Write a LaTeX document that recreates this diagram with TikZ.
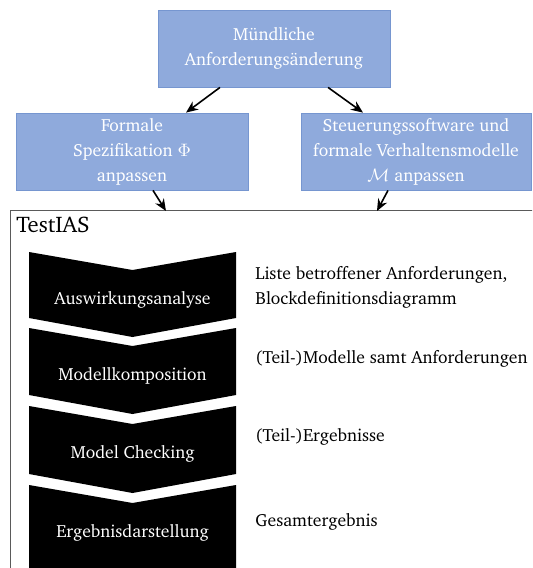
\documentclass[tikz,border=0pt]{standalone}
\usepackage[T1]{fontenc}
\usepackage{charter}
\usepackage{amsmath}
\usetikzlibrary{positioning, calc, arrows.meta}

\definecolor{reqblue}{RGB}{143,170,220}
\definecolor{reqline}{RGB}{118,150,208}
\definecolor{frameline}{RGB}{90,90,90}

\tikzset{
  reqbox/.style={draw=reqline, fill=reqblue, text=white, align=center,
    minimum width=116pt, minimum height=38.5pt, inner sep=0pt,
    font=\fontsize{8.8}{12.5}\selectfont},
  flow/.style={-{Stealth[length=6pt, width=5pt]}, thick},
  chevtext/.style={text=white, font=\fontsize{8.8}{12.5}\selectfont},
  outtext/.style={anchor=west, align=left, inner sep=0pt, font=\fontsize{8.8}{12.5}\selectfont},
}

\begin{document}
\begin{tikzpicture}[x=0.5pt, y=-0.5pt]
        \useasboundingbox (0,0) rectangle (532,568);
        \clip (0,0) rectangle (532,568);

        \node[reqbox] (change) at (274,48.5)  {M\"undliche\\Anforderungs\"anderung};  %top
        \node[reqbox] (spec)   at (132,151.5) {Formale\\Spezifikation $\Phi$\\anpassen};  %left
        \node[reqbox, minimum width=115pt] (model) at (416,151.5)
              {Steuerungssoftware und\\formale Verhaltensmodelle\\$\mathcal{M}$ anpassen};  %right

        \draw[frameline] (10,210) rectangle (600,640);  %TestIAS frame
        \node[anchor=west, inner sep=0pt, font=\fontsize{11.3}{13}\selectfont] (testias) at (16,225) {TestIAS};
        \coordinate (inspec)  at (166,211);
        \coordinate (inmodel) at (377,211);

        \draw[flow] ([xshift=-27pt]change.south) -- ([xshift=27pt]spec.north);
        \draw[flow] ([xshift=27pt]change.south)  -- ([xshift=-26.5pt]model.north);
        \draw[flow] ([xshift=10.5pt]spec.south)  -- (inspec);
        \draw[flow] ([xshift=-14pt]model.south)  -- (inmodel);

        \foreach \y/\h/\name/\txt in {252/66/impact/Auswirkungsanalyse, 328/67/compose/Modellkomposition,
                                      406/68/check/Model Checking, 485/120/result/Ergebnisdarstellung} {
          \fill[black] (29,\y) -- (132.5,\y+18) -- (236,\y) -- (236,\y+\h)
                       -- (132.5,\y+\h+19) -- (29,\y+\h) -- cycle;
          \node[chevtext] (\name) at (132.5,\y+48) {\txt};
        }

        \node[outtext] (impactout)  at (255,287.5) {Liste betroffener Anforderungen,\\Blockdefinitionsdiagramm};
        \node[outtext] (composeout) at (255,359) {(Teil-)Modelle samt Anforderungen};
        \node[outtext] (checkout)   at (255,437) {(Teil-)Ergebnisse};
        \node[outtext] (resultout)  at (255,522) {Gesamtergebnis};
\end{tikzpicture}
\end{document}
